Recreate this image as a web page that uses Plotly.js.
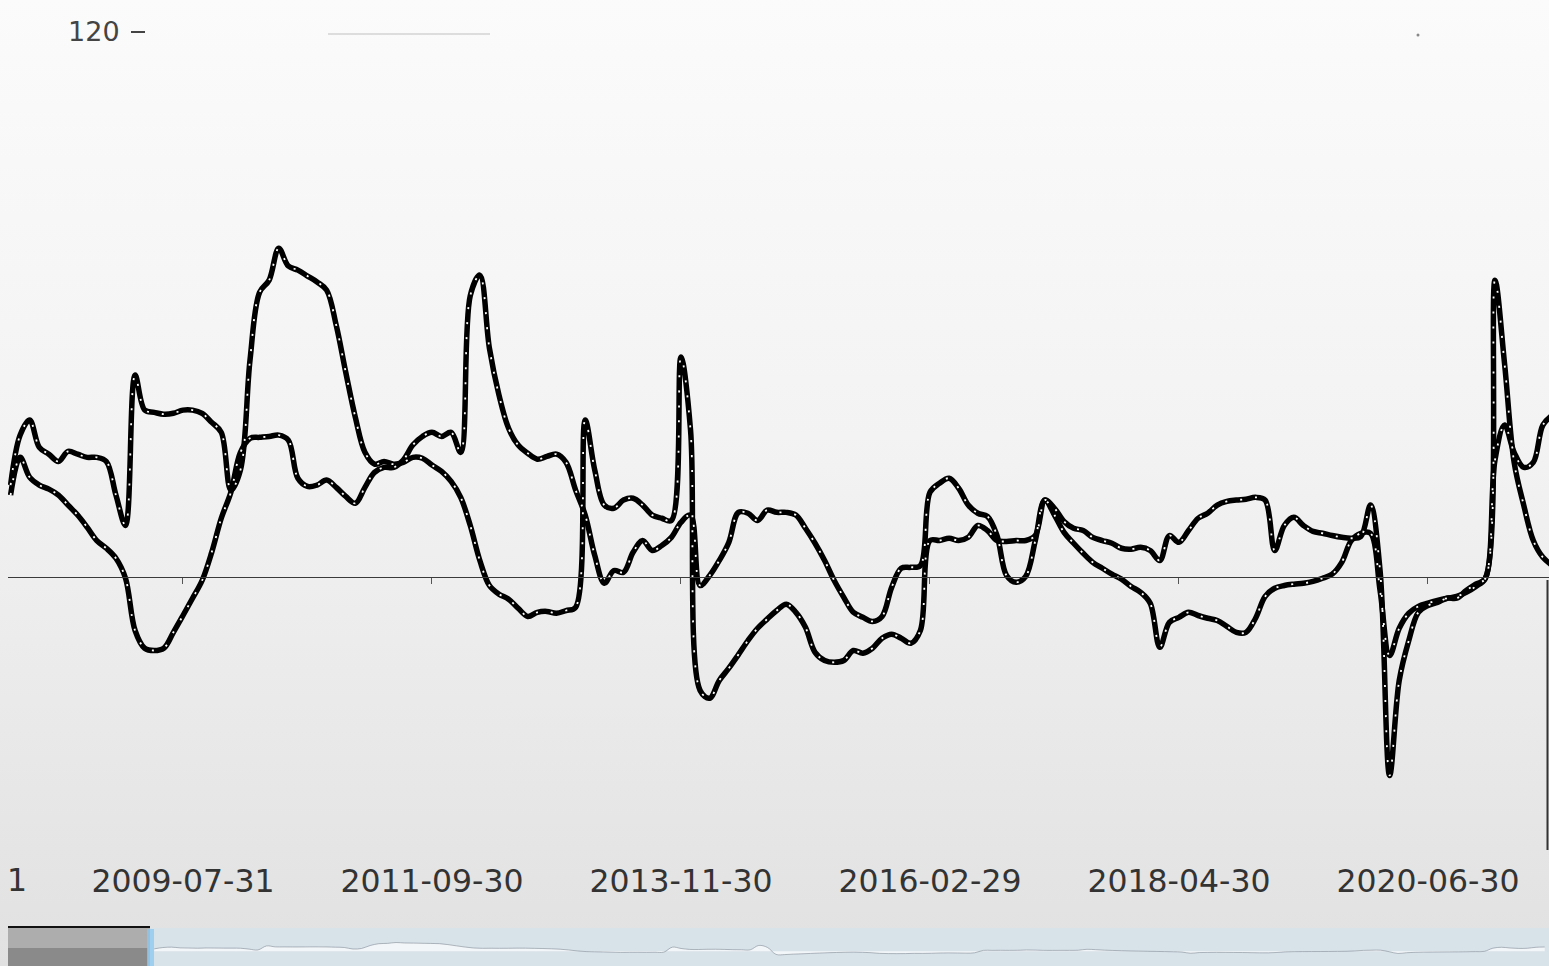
<!DOCTYPE html>
<html>
<head>
<meta charset="utf-8">
<script src="https://cdn.plot.ly/plotly-3.0.1.min.js"></script>
<style>
  html, body { margin: 0; padding: 0; }
  body { width: 1549px; height: 966px; overflow: hidden;
         background: linear-gradient(to bottom, #fbfbfb 0%, #f3f3f3 45%, #e1e1e1 100%); }
  #chart { width: 1549px; height: 966px; }
</style>
</head>
<body>
<div id="chart"></div>
<script>
// Month-end categories (one month, 2015-02, absent from the source data)
const months = [
  '2008-01-31','2008-02-29','2008-03-31','2008-04-30','2008-05-31','2008-06-30','2008-07-31','2008-08-31','2008-09-30','2008-10-31','2008-11-30','2008-12-31',
  '2009-01-31','2009-02-28','2009-03-31','2009-04-30','2009-05-31','2009-06-30','2009-07-31','2009-08-31','2009-09-30','2009-10-31','2009-11-30','2009-12-31',
  '2010-01-31','2010-02-28','2010-03-31','2010-04-30','2010-05-31','2010-06-30','2010-07-31','2010-08-31','2010-09-30','2010-10-31','2010-11-30','2010-12-31',
  '2011-01-31','2011-02-28','2011-03-31','2011-04-30','2011-05-31','2011-06-30','2011-07-31','2011-08-31','2011-09-30','2011-10-31','2011-11-30','2011-12-31',
  '2012-01-31','2012-02-29','2012-03-31','2012-04-30','2012-05-31','2012-06-30','2012-07-31','2012-08-31','2012-09-30','2012-10-31','2012-11-30','2012-12-31',
  '2013-01-31','2013-02-28','2013-03-31','2013-04-30','2013-05-31','2013-06-30','2013-07-31','2013-08-31','2013-09-30','2013-10-31','2013-11-30','2013-12-31',
  '2014-01-31','2014-02-28','2014-03-31','2014-04-30','2014-05-31','2014-06-30','2014-07-31','2014-08-31','2014-09-30','2014-10-31','2014-11-30','2014-12-31',
  '2015-01-31','2015-03-31','2015-04-30','2015-05-31','2015-06-30','2015-07-31','2015-08-31','2015-09-30','2015-10-31','2015-11-30','2015-12-31',
  '2016-01-31','2016-02-29','2016-03-31','2016-04-30','2016-05-31','2016-06-30','2016-07-31','2016-08-31','2016-09-30','2016-10-31','2016-11-30','2016-12-31',
  '2017-01-31','2017-02-28','2017-03-31','2017-04-30','2017-05-31','2017-06-30','2017-07-31','2017-08-31','2017-09-30','2017-10-31','2017-11-30','2017-12-31',
  '2018-01-31','2018-02-28','2018-03-31','2018-04-30','2018-05-31','2018-06-30','2018-07-31','2018-08-31','2018-09-30','2018-10-31','2018-11-30','2018-12-31',
  '2019-01-31','2019-02-28','2019-03-31','2019-04-30','2019-05-31','2019-06-30','2019-07-31','2019-08-31','2019-09-30','2019-10-31','2019-11-30','2019-12-31',
  '2020-01-31','2020-02-29','2020-03-31','2020-04-30','2020-05-31','2020-06-30','2020-07-31','2020-08-31','2020-09-30','2020-10-31','2020-11-30','2020-12-31',
  '2021-01-31','2021-02-28','2021-03-31','2021-04-30','2021-05-31','2021-06-30','2021-07-31'
];

const seriesA = [
  20.3,31.3,34.6,28.6,27.1,25.5,27.7,27.1,26.4,26.4,25.5,18.1,
  11.4,44.5,36.8,36.3,35.9,36.1,36.8,36.8,36.1,34.1,31.9,19.2,
  23.6,47.8,62.7,65.4,72.4,68.5,67.6,66.3,65.0,63.2,55.5,45.1,
  35.2,27.5,24.9,25.5,24.9,25.3,26.4,26.2,24.7,23.3,21.1,17.6,
  11.4,3.7,-1.8,-3.7,-4.8,-6.8,-8.6,-7.7,-7.5,-7.9,-7.3,-6.6,
  34.6,23.6,15.9,15.2,17.0,17.4,15.9,13.7,13.0,12.5,48.5,32.4,
  -24.9,-26.6,-22.7,-20.0,-17.0,-13.9,-11.2,-9.2,-7.3,-5.9,-7.7,-11.0,
  -16.5,-18.3,-18.7,-18.3,-16.1,-16.7,-15.6,-13.4,-12.5,-13.4,-14.5,
  -11.7,8.1,8.1,8.6,8.1,8.8,11.4,10.3,8.1,7.9,8.1,8.1,
  9.2,17.0,13.7,9.9,7.5,5.3,3.3,2.0,0.7,-0.4,-2.0,-3.3,
  -5.7,-15.4,-9.9,-8.8,-7.7,-8.4,-9.0,-9.5,-10.8,-12.1,-12.1,-9.0,
  -4.2,-2.4,-1.8,-1.5,-1.3,-0.9,-0.2,0.7,3.3,8.1,9.7,9.7,
  -2.9,-17.2,-11.2,-7.9,-6.4,-5.7,-5.1,-4.6,-4.2,-3.3,-2.0,-0.2,
  25.8,33.5,27.5,24.2,25.3,33.5,35.7
];

const seriesB = [
  18.1,26.4,22.0,20.3,19.4,18.1,15.9,13.7,11.0,8.1,6.4,4.2,
  -0.2,-11.7,-15.6,-16.1,-15.6,-12.1,-8.4,-4.6,-0.7,5.5,13.0,18.7,
  27.5,30.6,30.8,31.0,31.3,30.2,21.8,20.0,20.3,21.4,19.8,17.8,
  16.3,19.8,23.1,24.2,24.2,25.8,29.1,31.0,31.9,31.0,31.9,27.5,
  62.0,66.5,50.4,40.1,32.8,29.1,27.3,26.0,26.6,27.1,25.3,19.2,
  13.7,4.8,-1.3,1.5,1.1,5.5,8.1,5.9,7.0,8.8,12.1,13.7,
  -1.8,0.4,3.7,7.7,14.3,14.1,12.5,14.8,14.3,14.3,13.7,10.8,
  7.5,3.7,-0.7,-4.4,-7.7,-8.8,-9.7,-8.6,-2.2,2.0,2.2,
  2.6,18.7,20.7,21.8,19.6,15.9,14.1,13.4,9.2,0.4,-1.1,0.2,
  8.1,17.0,15.2,12.3,10.8,10.3,8.8,8.1,7.5,6.4,6.2,6.6,
  5.9,3.7,9.2,7.7,10.3,13.0,14.1,15.9,16.7,17.0,17.2,17.6,
  17.0,5.9,11.4,13.2,11.4,10.1,9.7,9.2,8.8,8.6,9.0,15.9,
  1.5,-43.6,-22.7,-13.9,-7.7,-6.2,-5.5,-4.6,-4.6,-2.9,-1.5,-0.2,
  65.4,47.0,25.3,15.9,8.1,4.4,2.6
];

const tickLabels = ['2009-07-31','2011-09-30','2013-11-30','2016-02-29','2018-04-30','2020-06-30'];
const yTicks = [120];

const xRange = [-0.27, 160.64];
const labelFont = { family: 'DejaVu Sans, sans-serif', size: 31.5, color: '#333333' };

function black(y) {
  return { x: months, y: y, type: 'scatter', mode: 'lines', xaxis: 'x', yaxis: 'y',
           line: { color: '#000000', width: 5.5, shape: 'spline', smoothing: 1 },
           hoverinfo: 'skip' };
}
function dashes(y) {
  return { x: months, y: y, type: 'scatter', mode: 'lines', xaxis: 'x2', yaxis: 'y',
           line: { color: '#ffffff', width: 1.8, shape: 'spline', smoothing: 1, dash: '2px,13px' },
           hoverinfo: 'skip' };
}

const traces = [
  { x: months, y: seriesA, type: 'scatter', mode: 'lines', xaxis: 'x3', yaxis: 'y3',
    fill: 'tozeroy', fillcolor: 'rgba(255,255,255,0.7)',
    line: { color: 'rgba(130,140,150,0.6)', width: 1, shape: 'spline' }, hoverinfo: 'skip' },
  black(seriesA), black(seriesB), dashes(seriesA), dashes(seriesB)
];

const layout = {
  width: 1549, height: 966,
  margin: { l: 8, r: 0, t: 32, b: 0, pad: 0 },
  paper_bgcolor: 'rgba(0,0,0,0)', plot_bgcolor: 'rgba(0,0,0,0)',
  showlegend: false,
  xaxis: {
    type: 'category', categoryorder: 'array', categoryarray: months,
    range: xRange, domain: [0, 1], anchor: 'y',
    tickmode: 'array', tickvals: tickLabels, ticktext: tickLabels,
    showgrid: false, zeroline: false, showline: false, ticks: '',
    ticklabelstandoff: 10,
    tickfont: labelFont, fixedrange: true
  },
  xaxis2: {
    type: 'category', categoryorder: 'array', categoryarray: months,
    overlaying: 'x', matches: 'x', anchor: 'free', position: 0.4165, side: 'bottom',
    range: xRange,
    tickmode: 'array', tickvals: tickLabels,
    showticklabels: false, showgrid: false, zeroline: false,
    showline: true, linecolor: '#3a3a3a', linewidth: 1.5,
    ticks: 'outside', ticklen: 6, tickwidth: 1, tickcolor: '#555555'
  },
  yaxis: {
    domain: [0.1242, 1], range: [-60, 120], anchor: 'free', position: 0.0889,
    tickmode: 'array', tickvals: yTicks, ticktext: yTicks.map(String),
    ticks: 'outside', ticklen: 14, tickwidth: 2, tickcolor: '#444444',
    ticklabelstandoff: 6,
    showgrid: false, zeroline: false, showline: false,
    tickfont: { family: 'DejaVu Sans, sans-serif', size: 27, color: '#444444' },
    fixedrange: true
  },
  xaxis3: {
    type: 'category', categoryorder: 'array', categoryarray: months,
    domain: [0.0921, 1], anchor: 'y3', range: [-0.5, 161.5], visible: false
  },
  yaxis3: {
    domain: [0, 0.0418], anchor: 'x3', range: [-120, 200], visible: false
  },
  annotations: [
    // visible tail of the previous (off-screen) date label
    { xref: 'paper', yref: 'paper', x: (17 - 8) / 1541, y: 0.0921, xanchor: 'center', yanchor: 'middle',
      text: '1', showarrow: false, font: labelFont }
  ],
  shapes: [
    // legend remnant at top
    { type: 'line', xref: 'paper', yref: 'paper', x0: (328 - 8) / 1541, x1: (490 - 8) / 1541,
      y0: (966 - 34) / 934, y1: (966 - 34) / 934, line: { color: '#dddddd', width: 2 } },
    { type: 'circle', xref: 'paper', yref: 'paper', x0: (1416.5 - 8) / 1541, x1: (1419.5 - 8) / 1541,
      y0: (966 - 36.5) / 934, y1: (966 - 33.5) / 934, fillcolor: '#888888', line: { width: 0 } },
    // right edge line
    { type: 'line', xref: 'paper', yref: 'paper', x0: (1547.5 - 8) / 1541, x1: (1547.5 - 8) / 1541,
      y0: (966 - 850) / 934, y1: (966 - 580) / 934, line: { color: '#333333', width: 2 } },
    // data zoom slider
    { type: 'rect', xref: 'paper', yref: 'paper', layer: 'below', x0: (150 - 8) / 1541, x1: 1,
      y0: 0, y1: (966 - 928) / 934, fillcolor: '#d8e2e9', line: { width: 0 } },
    { type: 'rect', xref: 'paper', yref: 'paper', layer: 'below', x0: 0, x1: (150 - 8) / 1541,
      y0: 0, y1: (966 - 928) / 934, fillcolor: '#adadad', line: { width: 0 } },
    { type: 'rect', xref: 'paper', yref: 'paper', layer: 'below', x0: 0, x1: (148 - 8) / 1541,
      y0: 0, y1: (966 - 948) / 934, fillcolor: '#8a8a8a', line: { width: 0 } },
    { type: 'line', xref: 'paper', yref: 'paper', x0: 0, x1: (150 - 8) / 1541,
      y0: (966 - 927) / 934, y1: (966 - 927) / 934, line: { color: '#111111', width: 2 } },
    { type: 'rect', xref: 'paper', yref: 'paper', x0: (147 - 8) / 1541, x1: (154 - 8) / 1541,
      y0: 0, y1: (966 - 929) / 934, fillcolor: 'rgba(140,200,240,0.75)', line: { width: 0 } }
  ]
};

Plotly.newPlot('chart', traces, layout, { staticPlot: true, displayModeBar: false });
</script>
</body>
</html>
